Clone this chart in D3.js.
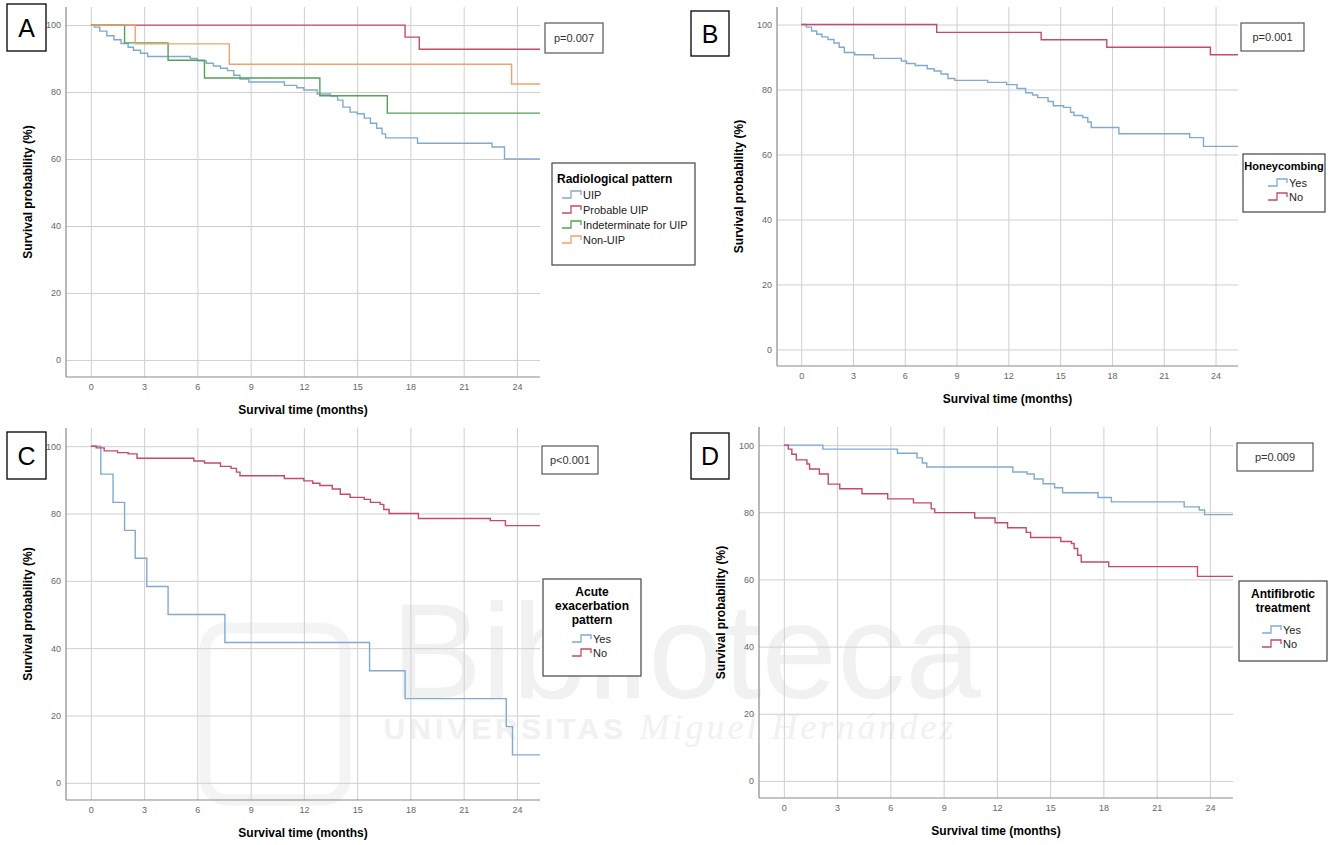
<!DOCTYPE html>
<html>
<head>
<meta charset="utf-8">
<script src="https://cdn.jsdelivr.net/npm/d3@7"></script>
<style>
  body { margin: 0; background: #fff; }
  svg { display: block; font-family: "Liberation Sans", Arial, sans-serif; }
</style>
</head>
<body>
<div id="chart"></div>
<script>
// Tick values shared by the four Kaplan-Meier panels
const monthTicks = [0, 3, 6, 9, 12, 15, 18, 21, 24];
const pctTicks = [0, 20, 40, 60, 80, 100];

// Panel A - radiological pattern  [months, survival %]
const uipA = [[0,100],[0.2,99.4],[0.5,98.2],[0.9,96.8],[1.3,95.6],[1.7,94.5],[2.1,93.4],[2.4,92.5],[2.8,91.6],[3.2,90.6],[5.6,90],[6.0,89.3],[6.5,88.6],[6.9,87.8],[7.3,87.1],[7.7,86.4],[8.05,85],[8.4,83.9],[8.9,83],[10.9,82],[11.6,81.3],[12.0,80.6],[12.75,79.4],[13.5,78.8],[13.9,77.6],[14.2,75.5],[14.6,74],[15.0,73.5],[15.4,72.2],[15.75,70.7],[16.1,69.2],[16.4,67.5],[16.6,66.3],[18.4,64.7],[22.6,63.6],[23.3,60],[25.3,60]];
const probableUipA = [[0,100],[17.7,96.4],[18.5,92.8],[25.3,92.8]];
const indeterminateA = [[0,100],[1.9,94.7],[4.35,89.5],[6.4,84.2],[12.9,78.9],[16.7,73.7],[25.3,73.7]];
const nonUipA = [[0,100],[2.5,94.4],[7.8,88.3],[23.7,82.4],[25.3,82.4]];

// Panel B - honeycombing
const yesB = [[0,100],[0.3,99.2],[0.6,98],[0.9,97],[1.2,96.2],[1.55,95.4],[1.9,94.3],[2.2,93],[2.5,91.4],[3.1,90.7],[4.2,89.6],[5.8,88.8],[6.1,88],[6.6,87.4],[7.3,86.4],[7.7,85.7],[8.1,84.8],[8.5,83.4],[8.9,82.8],[10.8,82.2],[11.9,81.5],[12.5,80.3],[13.0,79],[13.4,78.3],[13.7,77.5],[14.3,76.3],[14.6,75],[15.2,74.5],[15.6,73],[15.8,72],[16.3,71.4],[16.6,70],[16.8,68.3],[18.4,66.4],[22.5,65.2],[23.3,62.5],[25.3,62.5]];
const noB = [[0,100],[7.85,97.6],[13.9,95.3],[17.7,93],[23.7,90.7],[25.3,90.7]];

// Panel C - acute exacerbation pattern
const yesC = [[0,100],[0.56,91.7],[1.25,83.3],[1.9,75],[2.5,66.7],[3.15,58.3],[4.35,50],[7.55,41.7],[15.7,33.3],[17.7,25],[23.4,16.7],[23.75,8.3],[25.3,8.3]];
const noC = [[0,100],[0.3,99.5],[0.75,98.6],[1.5,98.1],[2.1,97.7],[2.6,96.4],[5.8,95.6],[6.4,95],[7.3,94],[7.9,93.4],[8.2,92.3],[8.4,91.2],[10.9,90.4],[12.0,89.7],[12.5,89],[12.9,88.3],[13.6,87.3],[14.05,85.7],[14.6,84.8],[15.4,84.2],[15.75,83.3],[16.3,82.7],[16.5,81.2],[16.8,80],[18.45,78.5],[22.5,77.9],[23.35,76.4],[25.3,76.4]];

// Panel D - antifibrotic treatment
const yesD = [[0,100],[2.2,98.8],[6.4,97.6],[7.5,96.2],[7.8,94.7],[8.05,93.5],[12.9,92],[13.7,91.4],[14.1,89.9],[14.6,88.5],[15.25,87.3],[15.7,85.8],[17.7,84.4],[18.45,83.1],[22.55,81.6],[23.4,80.7],[23.7,79.3],[25.3,79.3]];
const noD = [[0,100],[0.25,98.8],[0.45,97.3],[0.7,95.6],[1.3,94.4],[1.45,92.9],[2.0,91.4],[2.5,88.4],[3.15,87],[4.4,85.5],[5.85,84],[7.3,82.8],[8.3,81],[8.5,79.9],[10.75,78.3],[11.9,76.9],[12.6,75.4],[13.65,74],[13.9,72.5],[15.6,71.3],[16.2,70.7],[16.35,69.2],[16.55,67.2],[16.75,65.2],[18.3,63.8],[23.3,60.9],[25.3,60.9]];

const pValues = ["p=0.007", "p=0.001", "p<0.001", "p=0.009"];

const blue = "#80aad2", red = "#c64a6b", green = "#55a155", orange = "#f0a46c";

const width = 1337, height = 845;

const svg = d3.select("#chart")
    .append("svg")
    .attr("width", width)
    .attr("height", height);

// faint library watermark behind the panels
const wm = svg.append("g").attr("fill", "#f1f1f1");
wm.append("rect")
    .attr("x", 205).attr("y", 628).attr("width", 140).attr("height", 172)
    .attr("rx", 22).attr("fill", "none").attr("stroke", "#f4f4f4").attr("stroke-width", 11);
wm.append("text")
    .attr("x", 686).attr("y", 698)
    .attr("text-anchor", "middle")
    .style("font-size", "136px")
    .text("Biblioteca");
wm.append("text")
    .attr("x", 670).attr("y", 739)
    .attr("text-anchor", "middle")
    .style("font-size", "30px")
    .style("font-weight", "bold")
    .style("letter-spacing", "4px")
    .html('UNIVERSITAS <tspan font-style="italic" font-weight="normal" font-family="Liberation Serif" font-size="36" style="letter-spacing:3px">Miguel Hernández</tspan>');

const panels = [
    {
        letter: "A", box: [7, 4, 39, 47],
        frame: {left: 66, right: 540, top: 7, bottom: 377},
        p: [545, 23, 58, 30],
        series: [[uipA, blue], [probableUipA, red], [indeterminateA, green], [nonUipA, orange]],
        legend: {rect: [552, 163, 143, 102], title: ["Radiological pattern"], titleY: 183, titleX: 557, anchor: "start", titleSize: 12,
                 items: ["UIP", "Probable UIP", "Indeterminate for UIP", "Non-UIP"], itemX: 562, itemY: 199, step: 15}
    },
    {
        letter: "B", box: [691, 11, 38, 45],
        frame: {left: 777, right: 1238, top: 7, bottom: 366},
        p: [1241, 23, 63, 28],
        series: [[yesB, blue], [noB, red]],
        legend: {rect: [1243, 154, 82, 58], title: ["Honeycombing"], titleY: 170, titleX: 1284, anchor: "middle", titleSize: 11,
                 items: ["Yes", "No"], itemX: 1268, itemY: 187, step: 14}
    },
    {
        letter: "C", box: [7, 432, 39, 47],
        frame: {left: 66, right: 540, top: 428, bottom: 800},
        p: [542, 446, 56, 28],
        series: [[yesC, blue], [noC, red]],
        legend: {rect: [543, 579, 98, 97], title: ["Acute", "exacerbation", "pattern"], titleY: 596, titleX: 592, anchor: "middle", titleSize: 12,
                 items: ["Yes", "No"], itemX: 572, itemY: 643, step: 14}
    },
    {
        letter: "D", box: [691, 433, 38, 46],
        frame: {left: 759, right: 1233, top: 427, bottom: 798},
        p: [1237, 443, 76, 28],
        series: [[yesD, blue], [noD, red]],
        legend: {rect: [1239, 581, 88, 80], title: ["Antifibrotic", "treatment"], titleY: 598, titleX: 1283, anchor: "middle", titleSize: 12,
                 items: ["Yes", "No"], itemX: 1262, itemY: 634, step: 14}
    }
];

panels.forEach((pn, i) => {
    const f = pn.frame;
    const x = d3.scaleLinear().domain([-1.4, 25.3]).range([f.left, f.right]);
    const y = d3.scaleLinear().domain([-5.1, 105.4]).range([f.bottom, f.top]);
    const g = svg.append("g");

    // gridlines + tick labels via d3 axes
    const xAxis = g.append("g")
        .attr("transform", `translate(0,${f.bottom})`)
        .call(d3.axisBottom(x).tickValues(monthTicks).tickSize(-(f.bottom - f.top)).tickPadding(7));
    const yAxis = g.append("g")
        .attr("transform", `translate(${f.left},0)`)
        .call(d3.axisLeft(y).tickValues(pctTicks).tickSize(-(f.right - f.left)).tickPadding(5));
    [xAxis, yAxis].forEach(a => {
        a.select(".domain").remove();
        a.selectAll(".tick line").attr("stroke", "#cfcfcf").attr("stroke-width", 1);
        a.selectAll(".tick text").attr("fill", "#666").style("font-size", "9px")
            .style("font-family", "Liberation Sans, Arial, sans-serif");
    });

    // axis lines
    g.append("line").attr("x1", f.left).attr("x2", f.left).attr("y1", f.top).attr("y2", f.bottom)
        .attr("stroke", "#8a8a8a").attr("stroke-width", 1.2);
    g.append("line").attr("x1", f.left).attr("x2", f.right).attr("y1", f.bottom).attr("y2", f.bottom)
        .attr("stroke", "#8a8a8a").attr("stroke-width", 1.2);

    // axis titles
    g.append("text")
        .attr("x", (f.left + f.right) / 2).attr("y", f.bottom + 37)
        .attr("text-anchor", "middle")
        .style("font-size", "12px").style("font-weight", "bold")
        .text("Survival time (months)");
    g.append("text")
        .attr("transform", `translate(${f.left - 34},${(f.top + f.bottom) / 2}) rotate(-90)`)
        .attr("text-anchor", "middle")
        .style("font-size", "12px").style("font-weight", "bold")
        .text("Survival probability (%)");

    // survival step curves
    const line = d3.line().x(d => x(d[0])).y(d => y(d[1])).curve(d3.curveStepAfter);
    pn.series.forEach(([data, color]) => {
        g.append("path")
            .datum(data)
            .attr("fill", "none")
            .attr("stroke", color)
            .attr("stroke-width", 1.4)
            .attr("d", line);
    });

    // panel letter
    const [bx, by, bw, bh] = pn.box;
    g.append("rect").attr("x", bx).attr("y", by).attr("width", bw).attr("height", bh)
        .attr("fill", "#fff").attr("stroke", "#000").attr("stroke-width", 1.3);
    g.append("text")
        .attr("x", bx + bw / 2).attr("y", by + bh / 2 + 9)
        .attr("text-anchor", "middle")
        .style("font-size", "25px")
        .text(pn.letter);

    // p value box
    const [px, py, pw, ph] = pn.p;
    g.append("rect").attr("x", px).attr("y", py).attr("width", pw).attr("height", ph)
        .attr("fill", "#fff").attr("stroke", "#555").attr("stroke-width", 1.2);
    g.append("text")
        .attr("x", px + pw / 2).attr("y", py + ph / 2 + 4)
        .attr("text-anchor", "middle")
        .attr("fill", "#333")
        .style("font-size", "11px")
        .text(pValues[i]);

    // legend
    const lg = pn.legend;
    const [lx, ly, lw, lh] = lg.rect;
    g.append("rect").attr("x", lx).attr("y", ly).attr("width", lw).attr("height", lh)
        .attr("fill", "#fff").attr("stroke", "#444").attr("stroke-width", 1.2);
    lg.title.forEach((t, k) => {
        g.append("text")
            .attr("x", lg.titleX).attr("y", lg.titleY + k * 14)
            .attr("text-anchor", lg.anchor)
            .style("font-size", lg.titleSize + "px").style("font-weight", "bold")
            .text(t);
    });
    lg.items.forEach((name, k) => {
        const iy = lg.itemY + k * lg.step;
        const color = pn.series[k][1];
        g.append("path")
            .attr("d", `M${lg.itemX},${iy - 1}H${lg.itemX + 9}V${iy - 8}H${lg.itemX + 19}V${iy - 4}`)
            .attr("fill", "none").attr("stroke", color).attr("stroke-width", 1.3);
        g.append("text")
            .attr("x", lg.itemX + 21).attr("y", iy)
            .attr("fill", "#222")
            .style("font-size", "11px")
            .text(name);
    });
});
</script>
</body>
</html>
